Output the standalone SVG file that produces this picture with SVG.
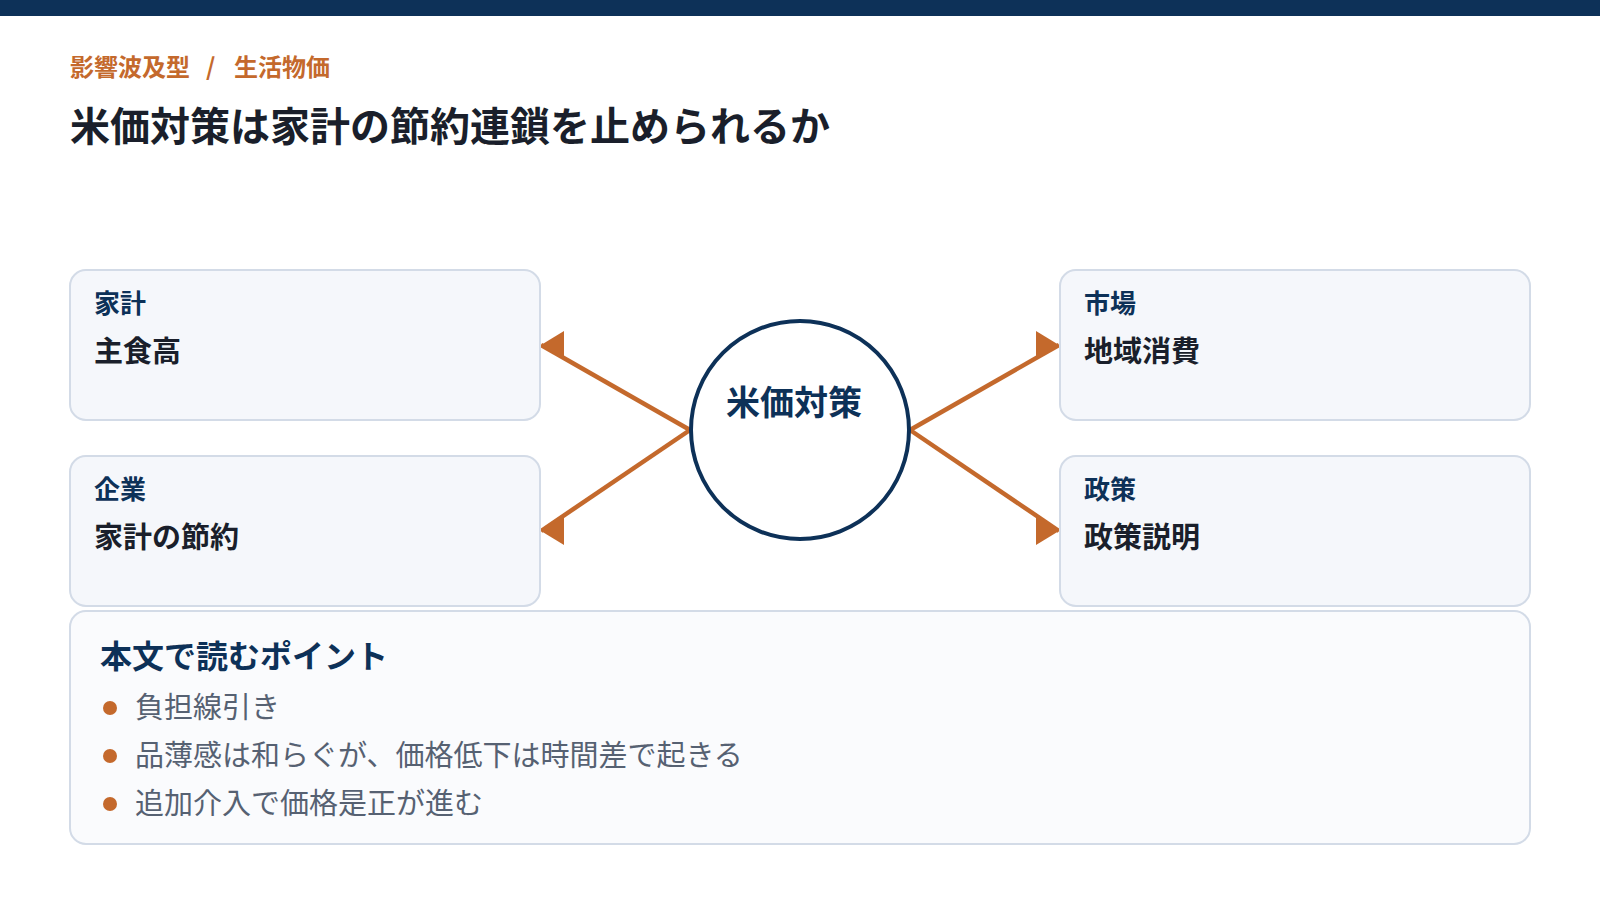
<svg xmlns="http://www.w3.org/2000/svg" width="1600" height="900" viewBox="0 0 1600 900">
  <style>
    text { font-family: "Noto Sans CJK JP", "Noto Sans", sans-serif; }
    .kicker { font-size: 24px; font-weight: 700; fill: #c4692c; }
    .title { font-size: 40px; font-weight: 700; fill: #1a1f2b; }
    .box { fill: #f5f7fb; stroke: #d3dbe7; stroke-width: 2; }
    .panel { fill: #fafbfd; stroke: #d3dbe7; stroke-width: 2; }
    .label { font-size: 26px; font-weight: 700; fill: #0d3158; }
    .value { font-size: 29px; font-weight: 700; fill: #1a1f2b; }
    .hub { fill: #ffffff; stroke: #0d3158; stroke-width: 4; }
    .hubtext { font-size: 34px; font-weight: 700; fill: #0d3158; }
    .conn { fill: none; stroke: #c4692c; stroke-width: 4.5; }
    .heading { font-size: 32px; font-weight: 700; fill: #0d3158; }
    .bullet { fill: #c4692c; }
    .btext { font-size: 29px; font-weight: 400; fill: #566172; }
  </style>
  <defs>
    <marker id="arrowL" viewBox="0 0 23 28" refX="0" refY="14" markerWidth="23" markerHeight="28" markerUnits="userSpaceOnUse" orient="0">
      <path d="M0,14 L23,0 L23,28 Z" fill="#c4692c"/>
    </marker>
    <marker id="arrowR" viewBox="0 0 23 28" refX="23" refY="14" markerWidth="23" markerHeight="28" markerUnits="userSpaceOnUse" orient="0">
      <path d="M0,0 L23,14 L0,28 Z" fill="#c4692c"/>
    </marker>
  </defs>

  <rect x="0" y="0" width="1600" height="16" fill="#0d3158"/>

  <text class="kicker" y="76"><tspan x="70">影響波及型</tspan><tspan x="206">/</tspan><tspan x="234">生活物価</tspan></text>
  <text class="title" x="70" y="141">米価対策は家計の節約連鎖を止められるか</text>

  <g id="connectors">
    <path class="conn" d="M690,430 L541,345" marker-end="url(#arrowL)"/>
    <path class="conn" d="M690,430 L541,531" marker-end="url(#arrowL)"/>
    <path class="conn" d="M910,430 L1059,345" marker-end="url(#arrowR)"/>
    <path class="conn" d="M910,430 L1059,531" marker-end="url(#arrowR)"/>
  </g>

  <g id="node-household">
    <rect class="box" x="70" y="270" width="470" height="150" rx="16"/>
    <text class="label" x="94" y="313">家計</text>
    <text class="value" x="94" y="362">主食高</text>
  </g>
  <g id="node-company">
    <rect class="box" x="70" y="456" width="470" height="150" rx="16"/>
    <text class="label" x="94" y="499">企業</text>
    <text class="value" x="94" y="548">家計の節約</text>
  </g>
  <g id="node-market">
    <rect class="box" x="1060" y="270" width="470" height="150" rx="16"/>
    <text class="label" x="1084" y="313">市場</text>
    <text class="value" x="1084" y="362">地域消費</text>
  </g>
  <g id="node-policy">
    <rect class="box" x="1060" y="456" width="470" height="150" rx="16"/>
    <text class="label" x="1084" y="499">政策</text>
    <text class="value" x="1084" y="548">政策説明</text>
  </g>

  <g id="node-hub">
    <circle class="hub" cx="800" cy="430" r="109"/>
    <text class="hubtext" x="794" y="415" text-anchor="middle">米価対策</text>
  </g>

  <g id="node-points">
    <rect class="panel" x="70" y="611" width="1460" height="233" rx="16"/>
    <text class="heading" x="100" y="668">本文で読むポイント</text>
    <circle class="bullet" cx="110" cy="708" r="7"/>
    <text class="btext" x="135" y="718">負担線引き</text>
    <circle class="bullet" cx="110" cy="756" r="7"/>
    <text class="btext" x="135" y="766">品薄感は和らぐが、価格低下は時間差で起きる</text>
    <circle class="bullet" cx="110" cy="804" r="7"/>
    <text class="btext" x="135" y="814">追加介入で価格是正が進む</text>
  </g>
</svg>
